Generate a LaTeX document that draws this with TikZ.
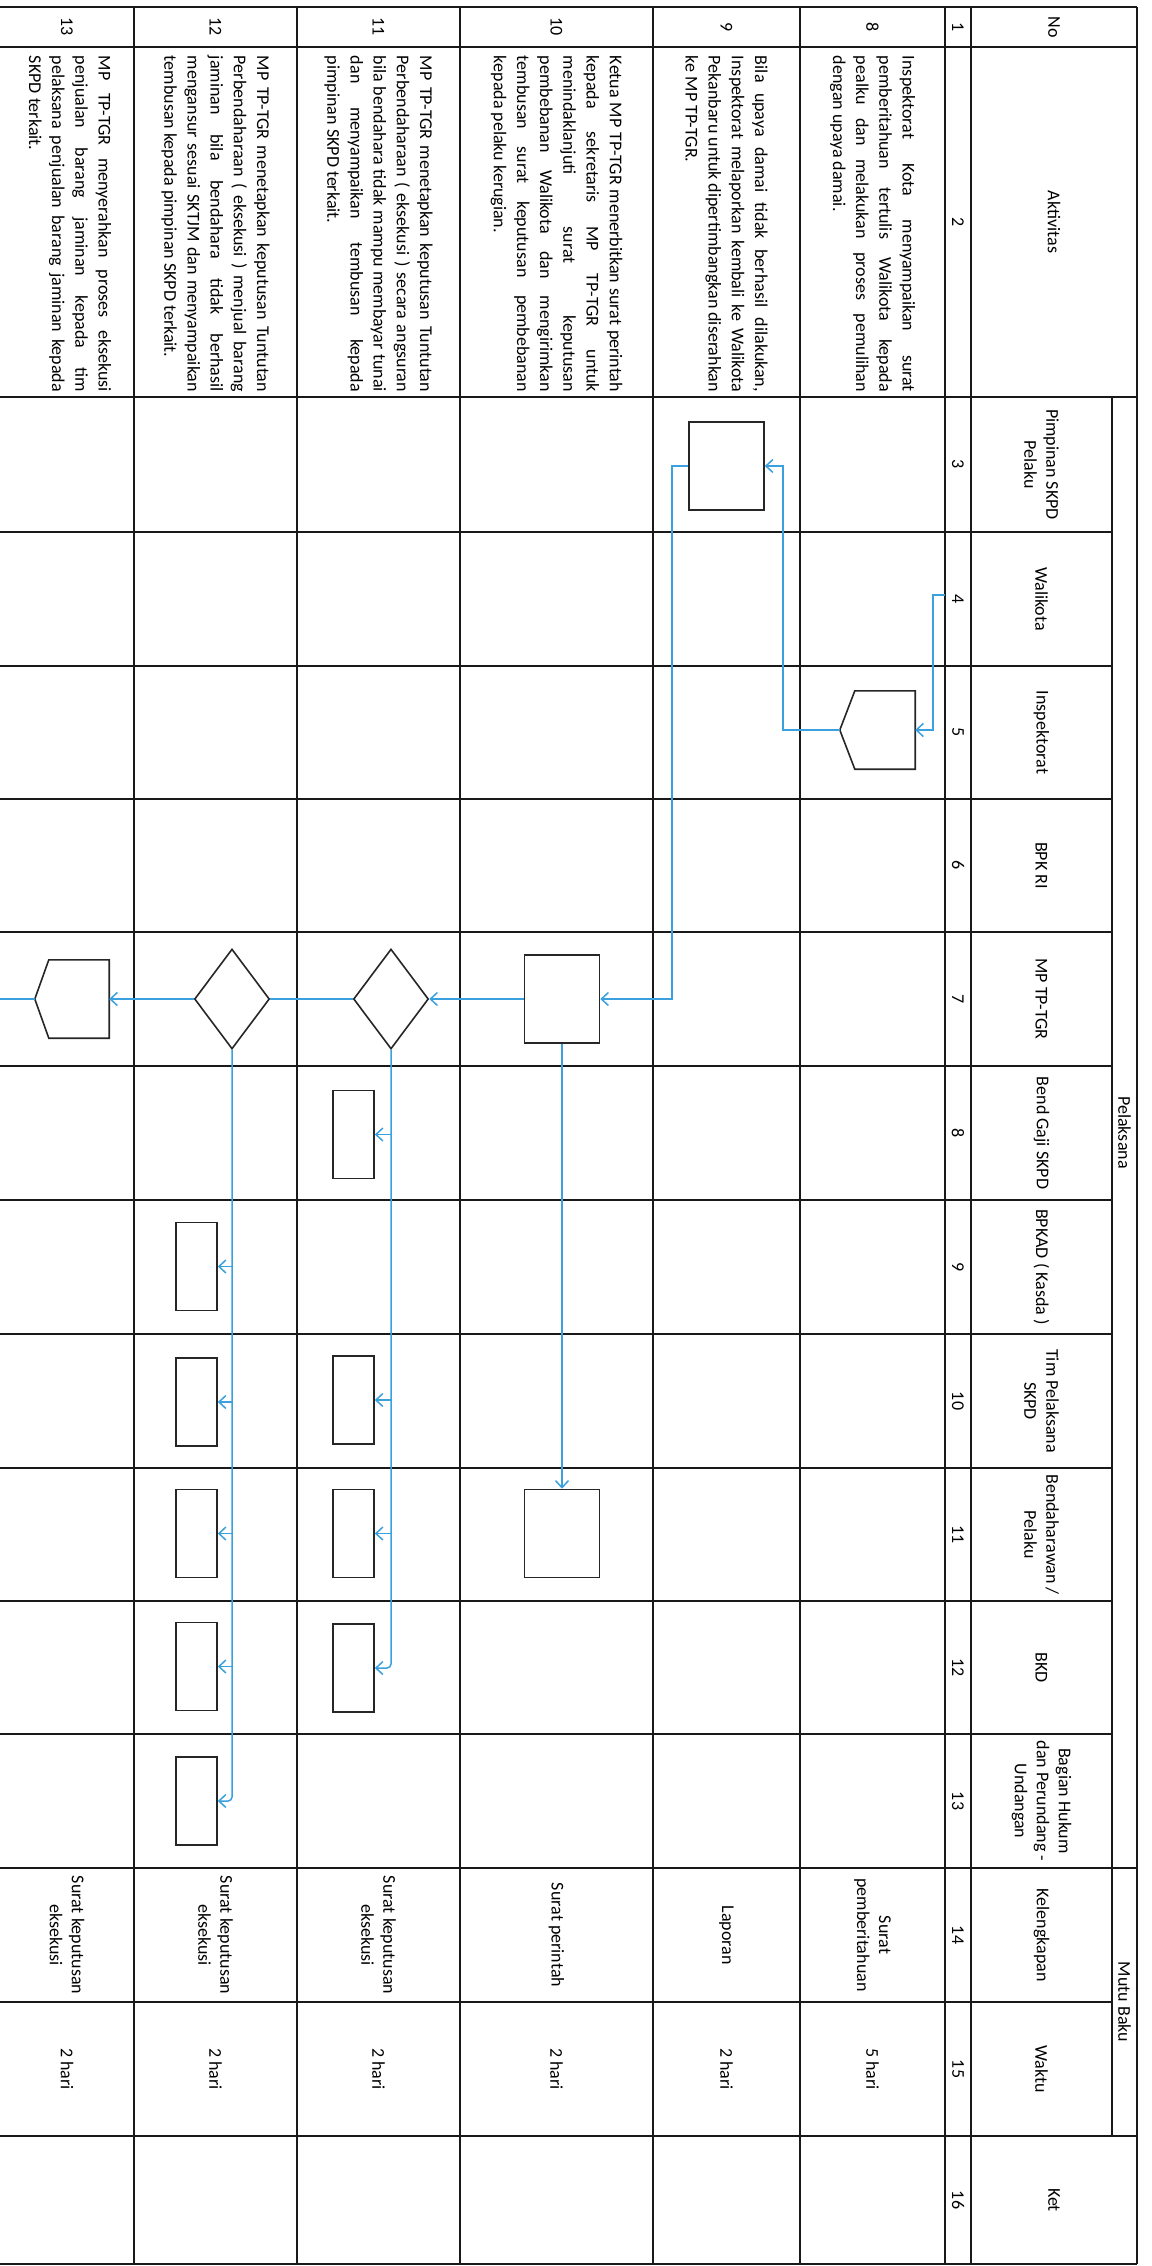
\documentclass[tikz,border=0pt]{standalone}
\usepackage{fontspec}
\setmainfont{Carlito}
\usetikzlibrary{arrows.meta,shapes.geometric}
\definecolor{flowblue}{RGB}{58,160,222}
\newlength\actw
\setlength\actw{336pt}
\newcommand\actline[1]{\makebox[\actw][s]{#1}}
\newcommand\actlast[1]{\makebox[\actw][l]{#1}}
\begin{document}
\begin{tikzpicture}[x=1pt,y=-1pt,
  grid/.style={line width=1.5pt, draw=black!90},
  gridh/.style={line width=2.2pt, draw=black!90},
  lbl/.style={rotate=-90, font=\fontsize{18}{22}\selectfont, align=center, inner sep=0pt},
  act/.style={rotate=-90, font=\fontsize{18}{23.2}\selectfont, align=left, inner sep=0pt},
  procbox/.style={draw=black!85, line width=1.6pt, inner sep=0pt, minimum height=88pt},
  bigbox/.style={procbox, minimum width=75pt},
  smallbox/.style={procbox, minimum width=41pt},
  dec/.style={diamond, draw=black!85, line width=1.6pt, inner sep=0pt, minimum width=75pt, minimum height=100pt},
  offpage/.style={inner sep=0pt, minimum width=75pt, minimum height=78pt},
  offline/.style={draw=black!85, line width=1.6pt, line join=miter},
  flow/.style={draw=flowblue, line width=1.5pt},
  arr/.style={flow, -{Straight Barb[length=7pt,width=13pt]}}
]
\fill[white] (0,0) rectangle (1151,2266);
\useasboundingbox (0,0) rectangle (1151,2266);

% table grid
\foreach \yy in {7,47,397,1868,2136,2264} \draw[gridh] (0,\yy) -- (1137,\yy);
\foreach \yy in {532,666,799,932,1066,1200,1334,1468,1601,1734,2002} \draw[gridh] (0,\yy) -- (1112,\yy);
\foreach \xx in {134,297,460,653,800,945,971,1137} \draw[grid] (\xx,7) -- (\xx,2264);
\draw[grid] (1112,397) -- (1112,2136);

% headers
\node[lbl] (hNo) at (1054,27) {No};
\node[lbl] (hAkt) at (1054,222) {Aktivitas};
\node[lbl] (hPel) at (1124.5,1132.5) {Pelaksana};
\node[lbl] (hMutu) at (1124.5,2002) {Mutu Baku};
\node[lbl] (hKet) at (1054,2200) {Ket};
\node[lbl] (h3) at (1041.5,464.5) {Pimpinan SKPD\\Pelaku};
\node[lbl] (h4) at (1041.5,599) {Walikota};
\node[lbl] (h5) at (1041.5,732.5) {Inspektorat};
\node[lbl] (h6) at (1041.5,865.5) {BPK RI};
\node[lbl] (h7) at (1041.5,999) {MP TP-TGR};
\node[lbl] (h8) at (1041.5,1133) {Bend Gaji SKPD};
\node[lbl] (h9) at (1041.5,1267) {BPKAD ( Kasda )};
\node[lbl] (h10) at (1041.5,1401) {Tim Pelaksana\\SKPD};
\node[lbl] (h11) at (1041.5,1534.5) {Bendaharawan /\\Pelaku};
\node[lbl] (h12) at (1041.5,1667.5) {BKD};
\node[lbl] (h13) at (1041.5,1801) {Bagian Hukum\\dan Perundang -\\Undangan};
\node[lbl] (h14) at (1041.5,1935) {Kelengkapan};
\node[lbl] (h15) at (1041.5,2069) {Waktu};

% number row
\foreach \n/\yy in {1/27,2/222,3/464.5,4/599,5/732.5,6/865.5,7/999,8/1133,9/1267,10/1401,11/1534.5,12/1667.5,13/1801,14/1935,15/2069,16/2200}
  \node[lbl] (num\n) at (958,\yy) {\n};

% row numbers
\node[lbl] (no8) at (872.5,27) {8};
\node[lbl] (no9) at (726.5,27) {9};
\node[lbl] (no10) at (556.5,27) {10};
\node[lbl] (no11) at (378.5,27) {11};
\node[lbl] (no12) at (215.5,27) {12};
\node[lbl] (no13) at (67,27) {13};

% activities
\node[act] (a8) at (872.5,224) {\actline{Inspektorat Kota menyampaikan surat}\\\actline{pemberitahuan tertulis Walikota kepada}\\\actline{pealku dan melakukan proses pemulihan}\\\actlast{dengan upaya damai.}};
\node[act] (a9) at (726.5,224) {\actline{Bila upaya damai tidak berhasil dilakukan,}\\\actline{Inspektorat melaporkan kembali ke Walikota}\\\actline{Pekanbaru untuk dipertimbangkan diserahkan}\\\actlast{ke MP TP-TGR.}};
\node[act] (a10) at (556.5,224) {\actline{Ketua MP TP-TGR menerbitkan surat perintah}\\\actline{kepada sekretaris MP TP-TGR untuk}\\\actline{menindaklanjuti surat keputusan}\\\actline{pembebanan Walikota dan mengirimkan}\\\actline{tembusan surat keputusan pembebanan}\\\actlast{kepada pelaku kerugian.}};
\node[act] (a11) at (378.5,224) {\actline{MP TP-TGR menetapkan keputusan Tuntutan}\\\actline{Perbendaharaan ( eksekusi ) secara angsuran}\\\actline{bila bendahara tidak mampu membayar tunai}\\\actline{dan menyampaikan tembusan kepada}\\\actlast{pimpinan SKPD terkait.}};
\node[act] (a12) at (215.5,224) {\actline{MP TP-TGR menetapkan keputusan Tuntutan}\\\actline{Perbendaharaan ( eksekusi ) menjual barang}\\\actline{jaminan bila bendahara tidak berhasil}\\\actline{mengansur sesuai SKTJM dan menyampaikan}\\\actlast{tembusan kepada pimpinan SKPD terkait.}};
\node[act] (a13) at (70,224) {\actline{MP TP-TGR menyerahkan proses eksekusi}\\\actline{penjualan barang jaminan kepada tim}\\\actline{pelaksana penjualan barang jaminan kepada}\\\actlast{SKPD terkait.}};

% mutu baku
\node[lbl] (k8) at (872.5,1935) {Surat\\pemberitahuan};
\node[lbl] (k9) at (726.5,1935) {Laporan};
\node[lbl] (k10) at (556.5,1935) {Surat perintah};
\node[lbl] (k11) at (378.5,1935) {Surat keputusan\\eksekusi};
\node[lbl] (k12) at (215.5,1935) {Surat keputusan\\eksekusi};
\node[lbl] (k13) at (67,1935) {Surat keputusan\\eksekusi};
\node[lbl] (w8) at (872.5,2069) {5 hari};
\node[lbl] (w9) at (726.5,2069) {2 hari};
\node[lbl] (w10) at (556.5,2069) {2 hari};
\node[lbl] (w11) at (378.5,2069) {2 hari};
\node[lbl] (w12) at (215.5,2069) {2 hari};
\node[lbl] (w13) at (67,2069) {2 hari};

% shapes
\node[bigbox] (pim) at (726.5,466) {};
\node[offpage] (insp) at (877.5,730) {};
\draw[offline] (insp.north east) -- ([xshift=15pt]insp.north west) -- (insp.west) -- ([xshift=15pt]insp.south west) -- (insp.south east) -- cycle;
\node[bigbox] (mp1) at (562,999) {};
\node[dec] (d11) at (391,999) {};
\node[dec] (d12) at (232,999) {};
\node[offpage, minimum width=74pt] (off13) at (72,999) {};
\draw[offline] (off13.north east) -- ([xshift=14pt]off13.north west) -- (off13.west) -- ([xshift=14pt]off13.south west) -- (off13.south east) -- cycle;
\node[smallbox] (gaji11) at (353.5,1134.5) {};
\node[smallbox] (bpkad12) at (196.5,1266.5) {};
\node[smallbox] (tim11) at (353.5,1400) {};
\node[smallbox] (tim12) at (196.5,1402) {};
\node[bigbox] (bend10) at (562,1533.5) {};
\node[smallbox] (bend11) at (353.5,1533.5) {};
\node[smallbox] (bend12) at (196.5,1533.5) {};
\node[smallbox] (bkd11) at (353.5,1668) {};
\node[smallbox] (bkd12) at (196.5,1666.5) {};
\node[smallbox] (hk12) at (196.5,1801) {};

% connectors
\coordinate (w0) at (945,595);
\coordinate (w1) at (933,595);
\draw[arr] (w0) -- (w1) |- (insp.east);
\coordinate (c1) at (783,730);
\draw[arr] (insp.west) -- (c1) |- (pim.east);
\coordinate (c2) at (672,466);
\draw[arr] (pim.west) -- (c2) |- (mp1.east);
\draw[arr] (mp1.west) -- (d11.east);
\draw[flow] (d11.west) -- (d12.east);
\draw[arr] (d12.west) -- (off13.east);
\coordinate (edge13) at (0,999);
\draw[flow] (off13.west) -- (edge13);
\draw[arr] (mp1.south) -- (bend10.north);
\draw[arr, rounded corners=4pt] (d11.south) |- (bkd11.east);
\draw[arr] (d11.south |- gaji11.east) -- (gaji11.east);
\draw[arr] (d11.south |- tim11.east) -- (tim11.east);
\draw[arr] (d11.south |- bend11.east) -- (bend11.east);
\draw[arr, rounded corners=4pt] (d12.south) |- (hk12.east);
\draw[arr] (d12.south |- bpkad12.east) -- (bpkad12.east);
\draw[arr] (d12.south |- tim12.east) -- (tim12.east);
\draw[arr] (d12.south |- bend12.east) -- (bend12.east);
\draw[arr] (d12.south |- bkd12.east) -- (bkd12.east);
\end{tikzpicture}
\end{document}
